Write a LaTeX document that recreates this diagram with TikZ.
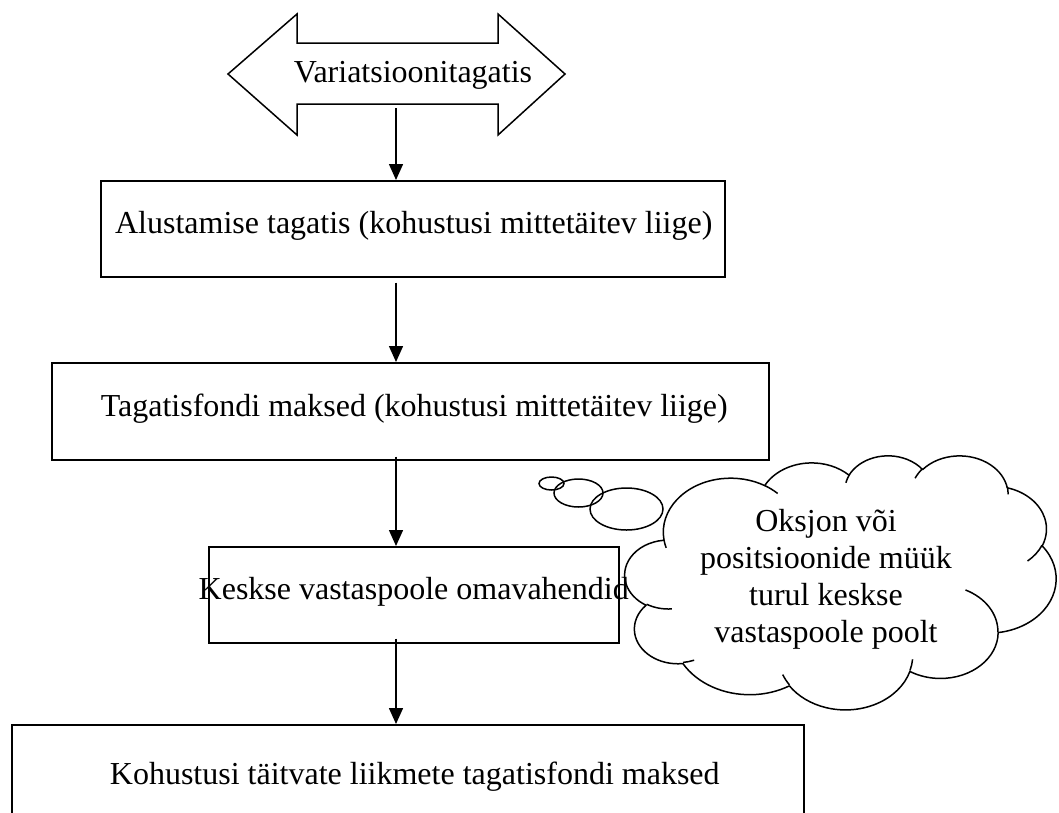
\documentclass[tikz,border=0pt]{standalone}
\usepackage{fontspec}
\setmainfont{Liberation Serif}
\usetikzlibrary{shapes.geometric,arrows.meta}
\pgfmathdeclarefunction{vpar}{3}{%
  \begingroup
    \pgfmathparse{atan2((#2)*sin(#1),(#3)*cos(#1))}%
    \let\vparA\pgfmathresult
    \pgfmathparse{\vparA+360*round(((#1)-\vparA)/360)}%
    \pgfmathsmuggle\pgfmathresult
  \endgroup}
\begin{document}
\begin{tikzpicture}[x=1pt,y=-1pt,
  txt/.style={font=\fontsize{32}{37}\selectfont},
  box/.style={draw, line width=1.5pt, inner sep=0pt, anchor=north west,
    txt, text height=20pt, text depth=10pt},
  arr/.style={-{Triangle[length=16pt,width=14pt]}, line width=1.5pt},
  bubble/.style={draw, ellipse, line width=1.5pt, inner sep=0pt},
  oarc/.style n args={4}{x radius=#1, y radius=#2,
    start angle={vpar(#3,#1,#2)}, end angle={vpar(#3+#4,#1,#2)}},
  cloudline/.style={line width=1.5pt, line join=round}]
\useasboundingbox (0,0) rectangle (1059,812);
% double arrow
\draw[line width=1.5pt, line join=miter]
  (228,74) -- (297,14) -- (297,43) -- (498,43) -- (498,14) -- (565,74)
  -- (498,135) -- (498,104) -- (297,104) -- (297,135) -- cycle;
\node[txt, inner sep=0pt] (var) at (413,75) {Variatsioonitagatis};
\coordinate (vb) at (396,108);
% boxes
\node[box, minimum width=624pt, minimum height=96pt] (b1) at (100,180)
  {\makebox[0pt]{\hspace*{2pt}Alustamise tagatis (kohustusi mittetäitev liige)}};
\node[box, minimum width=717pt, minimum height=97pt] (b2) at (51,362)
  {\makebox[0pt]{\hspace*{8pt}Tagatisfondi maksed (kohustusi mittetäitev liige)}};
\node[box, minimum width=410pt, minimum height=96pt] (b3) at (208,546)
  {\makebox[0pt]{Keskse vastaspoole omavahendid}};
\node[box, minimum width=792pt, minimum height=110pt] (b4) at (11,724)
  {\makebox[0pt]{\hspace*{14pt}Kohustusi täitvate liikmete tagatisfondi maksed}};
% arrows
\draw[arr] (vb) -- (vb |- b1.north);
\draw[arr] ([yshift=-5pt]vb |- b1.south) -- (vb |- b2.north);
\draw[arr] ([yshift=4pt]vb |- b2.south) -- (vb |- b3.north);
\draw[arr] ([yshift=5pt]vb |- b3.south) -- (vb |- b4.north);
% thought bubbles
\node[bubble, minimum width=25pt, minimum height=13pt] (t1) at (551.5,483.5) {};
\node[bubble, minimum width=49pt, minimum height=28pt] (t2) at (578.5,493) {};
\node[bubble, minimum width=73pt, minimum height=42pt] (t3) at (626.5,509) {};
% cloud outline (units of 10/43200 of the shape box)
\begin{scope}[shift={(625,455)}, x=0.099769pt, y=-0.058796pt]
\draw[cloudline] (390,1437)
  arc[oarc={675.3}{919.0}{-190.48748}{123.78053}]
  arc[oarc={533.3}{726.7}{-144.10238}{89.94523}]
  arc[oarc={436.5}{594.5}{-145.80792}{99.72302}]
  arc[oarc={485.7}{659.5}{-130.98607}{117.24173}]
  arc[oarc={533.3}{727.3}{-78.70888}{109.02692}]
  arc[oarc={677.5}{922.0}{-46.26725}{130.269}]
  arc[oarc={578.5}{786.7}{0.62502}{114.03333}]
  arc[oarc={675.2}{921.5}{22.4516}{115.17255}]
  arc[oarc={772.0}{1054.3}{66.24263}{75.71102}]
  arc[oarc={436.0}{591.8}{-274.94208}{146.73557}]
  arc[oarc={434.5}{594.5}{-246.8285}{152.51885}]
  -- cycle;
\draw[cloudline]
  (469.3,2617.7) arc[oarc={434.5}{594.5}{86.742}{26.4295}]
  (692.8,3489.9) arc[oarc={436.0}{591.8}{73.61047}{11.44747}]
  (1647.8,3909.0) arc[oarc={675.2}{921.5}{137.62415}{14.0811}]
  (2882.7,3475.1) arc[oarc={675.2}{921.5}{6.45327}{15.99835}]
  (3412.9,2295.4) arc[oarc={578.5}{786.7}{-70.29235}{70.91737}]
  (4179.8,1535.4) arc[oarc={533.3}{727.3}{30.31803}{27.7515}]
  (3832.4,542.6) arc[oarc={485.7}{659.5}{-13.74433}{14.8589}]
  (2907.8,395.2) arc[oarc={485.7}{659.5}{-149.18145}{18.19537}]
  (2214.1,472.0) arc[oarc={436.5}{594.5}{-163.49427}{17.68635}]
  (1400.0,519.2) arc[oarc={675.3}{919.0}{-66.70695}{12.31935}]
  (412.7,1578.9) arc[oarc={675.3}{919.0}{157.65435}{11.85817}];
\end{scope}
% cloud text
\node[inner sep=0pt] (cl) at (840.5,582)
  {\smash{\raisebox{-4pt}{\makebox[0pt]{\hspace*{-29pt}\fontsize{32}{37}\selectfont
   \begin{tabular}{@{}c@{}}Oksjon või\\positsioonide müük\\turul keskse\\vastaspoole poolt\end{tabular}}}}};
\end{tikzpicture}
\end{document}
